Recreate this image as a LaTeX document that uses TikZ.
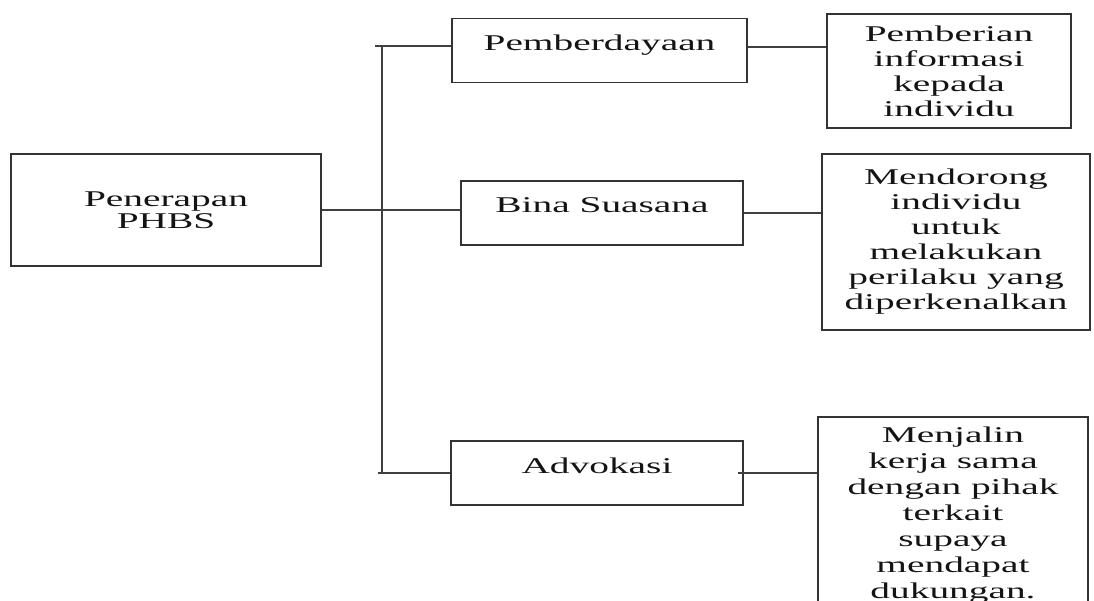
\documentclass[tikz,border=0pt]{standalone}
\usepackage{fontspec}
\setmainfont[FakeStretch=1.75]{Liberation Serif}
\usepackage{tikz}

\tikzset{
  box/.style={draw=black!80, line width=1.4pt, align=center, inner sep=0pt,
    font=\fontsize{22.5}{25}\selectfont, text=black!92},
  onebox/.style={box, minimum height=64pt, text height=10pt, text depth=10pt},
  wire/.style={draw=black!75, line width=1.1pt},
}

\begin{document}
\begin{tikzpicture}[x=1pt,y=-1pt]
    \useasboundingbox (0,0) rectangle (1094,601);
    \clip (0,0) rectangle (1094,601);

    % Root
    \node[box, minimum width=310pt, minimum height=112pt,
      font=\fontsize{22.5}{22}\selectfont] (phbs) at (166,210) {Penerapan\\PHBS};

    % Middle column
    \node[onebox, minimum width=295pt] (pember) at (599.5,50.5) {Pemberdayaan};
    \node[onebox, minimum width=282pt] (bina) at (602,213) {Bina Suasana};
    \node[onebox, minimum width=292pt] (advok) at (597,473) {Advokasi};

    % Right column
    \node[box, minimum width=244pt, minimum height=114pt] (pemberian) at (949,71)
      {Pemberian\\informasi\\kepada\\individu};
    \node[box, minimum width=268pt, minimum height=176pt] (mendorong) at (956,242)
      {Mendorong\\individu\\untuk\\melakukan\\perilaku yang\\diperkenalkan};
    \node[box, minimum width=270pt, minimum height=196pt,
      font=\fontsize{22.5}{26}\selectfont] (menjalin) at (953,515)
      {Menjalin\\kerja sama\\dengan pihak\\terkait\\supaya\\mendapat\\dukungan.};

    % Branch bar
    \coordinate (bartop) at (382,46);
    \coordinate (barbot) at (382,473);
    \draw[wire, line width=2.2pt] (bartop) -- (barbot);
    \draw[wire] ([xshift=-7pt]bartop) -- (pember.west |- bartop);
    \draw[wire] ([xshift=-4pt]barbot) -- (advok.west |- barbot);
    \draw[wire] (phbs.east) -- (phbs.east -| bina.west);

    % Links to the right column
    \draw[wire] ([yshift=3.5pt]pember.east) coordinate (p1) -- (pemberian.west |- p1);
    \draw[wire] (bina.east) -- (mendorong.west |- bina.east);
    \draw[wire] ([xshift=-6pt]advok.east) -- (menjalin.west |- advok.east);
\end{tikzpicture}
\end{document}
